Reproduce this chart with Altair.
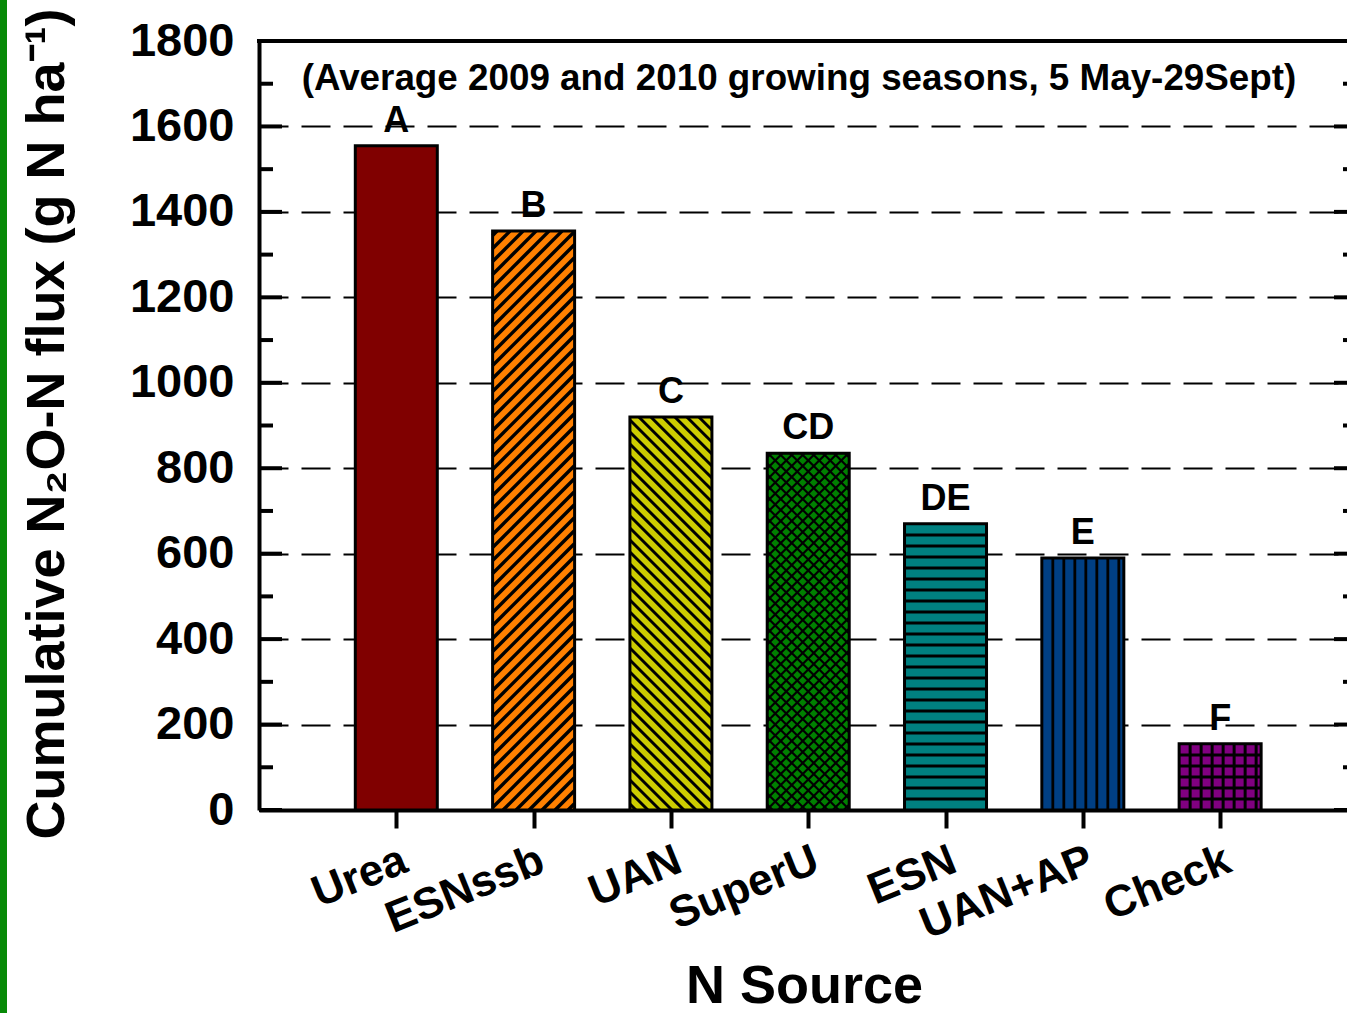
import altair as alt
import pandas as pd

# ---- data -------------------------------------------------------------
sources = ["Urea", "ESNssb", "UAN", "SuperU", "ESN", "UAN+AP", "Check"]
flux = [1555, 1355, 920, 835, 670, 590, 155]
letters = ["A", "B", "C", "CD", "DE", "E", "F"]
fills = ["#800000", "#FF8000", "#CCCC00", "#008000", "#008080", "#003F84", "#800080"]
patterns = ["solid", "slash", "backslash", "cross", "horizontal", "vertical", "grid"]
major_ticks = list(range(0, 1801, 200))
minor_ticks = list(range(100, 1800, 200))
note = "(Average 2009 and 2010 growing seasons, 5 May-29Sept)"

# ---- geometry ---------------------------------------------------------
W, H = 1088, 769          # plot area in px
X_MAX = 7.924             # x scale runs 0..X_MAX, bars sit at 1..7
Y_MAX = 1800
BAR_W = 82                # bar width in px
FRAME_RIGHT = 1097        # right frame line (px from plot left)
PX_X = W / X_MAX
PX_Y = H / Y_MAX
FONT = "Liberation Sans"

positions = list(range(1, len(sources) + 1))
bars_df = pd.DataFrame({
    "source": sources, "pos": positions, "flux": flux,
    "letter": letters, "pattern": patterns,
})

# hatch spacing (px) and line width for each fill pattern
hatch_style = {
    "slash": (13, 3.5),
    "backslash": (12, 3.0),
    "cross": (11, 2.2),
    "horizontal": (11, 2.8),
    "vertical": (11, 2.8),
    "grid": (11, 3.0),
}


def hatch_lines(center, value, pattern):
    """Line segments (data units) filling one bar with its pattern."""
    if pattern not in hatch_style:
        return []
    gap, width = hatch_style[pattern]
    x0 = center * PX_X - BAR_W / 2
    x1 = x0 + BAR_W
    top = value * PX_Y
    segs = []
    if pattern in ("horizontal", "grid"):
        y = gap
        while y < top - 1:
            segs.append((x0, y, x1, y))
            y += gap
    if pattern in ("vertical", "grid"):
        x = x0 + gap
        while x < x1 - 1:
            segs.append((x, 0, x, top))
            x += gap
    if pattern in ("slash", "cross"):
        c = -BAR_W + gap / 2
        while c < top:
            xa = max(x0, x0 - c)
            xb = min(x1, x0 + top - c)
            if xb - xa > 0.5:
                segs.append((xa, xa - x0 + c, xb, xb - x0 + c))
            c += gap
    if pattern in ("backslash", "cross"):
        c = gap / 2
        while c < top + BAR_W:
            xa = max(x0, x0 + c - top)
            xb = min(x1, x0 + c)
            if xb - xa > 0.5:
                segs.append((xa, c - (xa - x0), xb, c - (xb - x0)))
            c += gap
    return [
        {"hx": a / PX_X, "hy": b / PX_Y, "hx2": cc / PX_X, "hy2": d / PX_Y, "w": width}
        for a, b, cc, d in segs
    ]


hatch_rows = []
for p, v, pat in zip(positions, flux, patterns):
    hatch_rows.extend(hatch_lines(p, v, pat))
hatch_df = pd.DataFrame(hatch_rows)

label_expr = "[" + ",".join(["''"] + [f"'{s}'" for s in sources]) + "][datum.value]"

x_scale = alt.Scale(domain=[0, X_MAX], nice=False, zero=False, padding=0)
y_scale = alt.Scale(domain=[0, Y_MAX], nice=False, padding=0)

x_axis = alt.Axis(
    values=positions, labelExpr=label_expr, labelAngle=-22, labelAlign="right",
    labelBaseline="top", labelFontSize=44, labelFontWeight="bold", labelColor="black",
    labelFont=FONT, labelPadding=10, labelOverlap=False, labelFlush=False, labelLimit=0,
    ticks=True, tickSize=18, tickWidth=4, tickColor="black",
    domainColor="black", domainWidth=4, grid=False,
    title="N Source", titleFont=FONT, titleFontSize=54, titleFontWeight="bold",
    titleColor="black", titleX=W / 2 + 1, titleY=192, titleBaseline="alphabetic",
)
y_axis = alt.Axis(
    values=major_ticks, format="d", ticks=False,
    labelFontSize=47, labelFontWeight="bold", labelColor="black", labelFont=FONT,
    labelPadding=25, domainColor="black", domainWidth=4,
    grid=True, gridColor="black", gridDash=[29, 13], gridWidth=2, gridOpacity=1,
    title="Cumulative N₂O-N flux (g N ha⁻¹)", titleFont=FONT, titleFontSize=54,
    titleFontWeight="bold", titleColor="black", titleAngle=270,
    titleX=-196, titleY=H / 2 - 2, titleBaseline="alphabetic",
)

base = alt.Chart(bars_df)

bars = base.mark_bar(size=BAR_W, strokeWidth=0).encode(
    x=alt.X("pos:Q", scale=x_scale, axis=x_axis),
    y=alt.Y("flux:Q", scale=y_scale, axis=y_axis),
    color=alt.Color("source:N", scale=alt.Scale(domain=sources, range=fills), legend=None),
)

hatch = alt.Chart(hatch_df).mark_rule(color="black", strokeCap="butt").encode(
    x="hx:Q", x2="hx2:Q", y="hy:Q", y2="hy2:Q",
    strokeWidth=alt.StrokeWidth("w:Q", scale=None),
)

outline = base.mark_bar(size=BAR_W, fillOpacity=0, stroke="black", strokeWidth=3).encode(
    x="pos:Q", y="flux:Q",
)

letter_text = base.mark_text(
    font=FONT, fontSize=36, fontWeight="bold", color="black", baseline="bottom", dy=-6,
).encode(x="pos:Q", y="flux:Q", text="letter:N")

note_text = alt.Chart(pd.DataFrame({"note": [note]})).mark_text(
    font=FONT, fontSize=36.8, fontWeight="bold", color="black",
    align="center", baseline="alphabetic",
).encode(x=alt.value(540), y=alt.value(49), text="note:N")

major_df = pd.DataFrame({"t": major_ticks})
minor_df = pd.DataFrame({"t": minor_ticks})


def tick_rules(df, x_from, x_to):
    return alt.Chart(df).mark_rule(color="black", strokeWidth=4).encode(
        y="t:Q", x=alt.value(x_from), x2=alt.value(x_to),
    )


ticks = [
    tick_rules(major_df, 0, 23),
    tick_rules(minor_df, 0, 14),
    tick_rules(major_df, FRAME_RIGHT - 22, FRAME_RIGHT),
    tick_rules(minor_df, FRAME_RIGHT - 13, FRAME_RIGHT),
]

frame_top = alt.Chart(pd.DataFrame({"t": [Y_MAX]})).mark_rule(
    color="black", strokeWidth=4
).encode(y="t:Q", x=alt.value(-2), x2=alt.value(FRAME_RIGHT))

side_stripe = alt.Chart(pd.DataFrame({"t": [0]})).mark_rule(
    color="#078A07", strokeWidth=7
).encode(x=alt.value(-255.5), y=alt.value(-41), y2=alt.value(H + 210))

chart = alt.layer(
    bars, hatch, outline, letter_text, note_text, *ticks, frame_top, side_stripe
).properties(
    width=W, height=H,
    autosize=alt.AutoSizeParams(type="none"),
    padding={"left": 259, "top": 41, "right": 0, "bottom": 203},
    background="white",
).configure(font=FONT).configure_view(strokeWidth=0)

chart.save("out.html", embed_options={"renderer": "svg", "actions": False})
